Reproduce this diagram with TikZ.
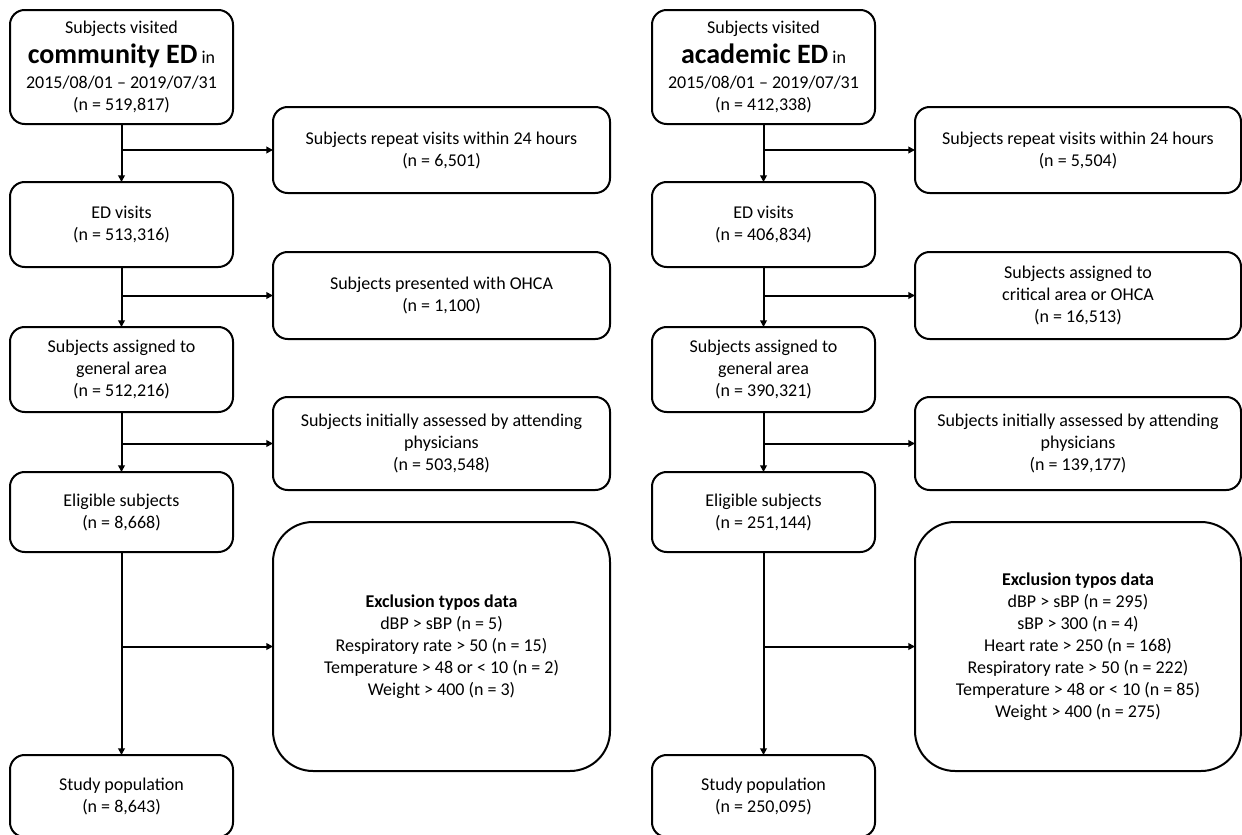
\documentclass[tikz,border=0pt]{standalone}
\usepackage{fontspec}
\setmainfont{Carlito}
\usepackage{tikz}
\usetikzlibrary{arrows.meta, positioning, calc}
\definecolor{mydark}{RGB}{0,0,0}
\newcommand{\bigfont}{\fontsize{21}{26}\selectfont\bfseries}
\tikzset{
  stepbox/.style={rectangle, draw=mydark, fill=white, align=center,
    minimum width=167.25pt, font=\fontsize{13.5}{16.5}\selectfont,
    rounded corners=11pt, line width=1.5pt, inner sep=0pt, outer sep=0pt},
  exclbox/.style={rectangle, draw=mydark, fill=white, align=center,
    minimum width=252.75pt, font=\fontsize{13.5}{16.5}\selectfont,
    rounded corners=11pt, line width=1.5pt, inner sep=0pt, outer sep=0pt},
  arrow/.style={-{Triangle[length=5pt, width=5pt]}, line width=1.5pt, color=mydark}
}

\begin{document}
\begin{tikzpicture}[x=0.75pt, y=-0.75pt]
  \fill[white] (0,0) rectangle (1242,835);
  \useasboundingbox (0,0) rectangle (1242,835);
  \clip (0,0) rectangle (1242,835);

  % Community ED
  \node[stepbox, minimum height=85.5pt] (c1) at (121.5,67)
    {Subjects visited\\[4.5pt] {\bigfont community ED} in\\[2.25pt] 2015/08/01 – 2019/07/31\\ (n = 519,817)};
  \node[stepbox, minimum height=63.75pt] (c2) at (121.5,224.5) {ED visits\\ (n = 513,316)};
  \node[stepbox, minimum height=63.75pt] (c3) at (121.5,369.5)
    {Subjects assigned to\\ general area\\ (n = 512,216)};
  \node[stepbox, minimum height=60pt] (c4) at (121.5,512) {Eligible subjects\\ (n = 8,668)};
  \node[stepbox, minimum height=61.5pt] (c5) at (121.5,796) {Study population\\ (n = 8,643)};

  \node[exclbox, minimum height=64.5pt] (cx1) at (441.5,150)
    {Subjects repeat visits within 24 hours\\ (n = 6,501)};
  \node[exclbox, minimum height=65.25pt] (cx2) at (441.5,295.5)
    {Subjects presented with OHCA\\ (n = 1,100)};
  \node[exclbox, minimum height=69.75pt] (cx3) at (441.5,443.5)
    {Subjects initially assessed by attending\\ physicians\\ (n = 503,548)};
  \node[exclbox, minimum height=186.75pt, rounded corners=30pt] (cx4) at (441.5,646.5)
    {\textbf{Exclusion typos data}\\ dBP > sBP (n = 5)\\ Respiratory rate > 50 (n = 15)\\
     Temperature > 48 or < 10 (n = 2)\\ Weight > 400 (n = 3)};

  % Academic ED
  \node[stepbox, minimum height=85.5pt] (a1) at (763.5,67)
    {Subjects visited\\[4.5pt] {\bigfont academic ED} in\\[2.25pt] 2015/08/01 – 2019/07/31\\ (n = 412,338)};
  \node[stepbox, minimum height=63.75pt] (a2) at (763.5,224.5) {ED visits\\ (n = 406,834)};
  \node[stepbox, minimum height=63.75pt] (a3) at (763.5,369.5)
    {Subjects assigned to\\ general area\\ (n = 390,321)};
  \node[stepbox, minimum height=60pt] (a4) at (763.5,512) {Eligible subjects\\ (n = 251,144)};
  \node[stepbox, minimum height=61.5pt] (a5) at (763.5,796) {Study population\\ (n = 250,095)};

  \node[exclbox, minimum width=244.5pt, minimum height=64.5pt] (ax1) at (1078,150)
    {Subjects repeat visits within 24 hours\\ (n = 5,504)};
  \node[exclbox, minimum width=244.5pt, minimum height=65.25pt] (ax2) at (1078,295.5)
    {Subjects assigned to\\ critical area or OHCA\\ (n = 16,513)};
  \node[exclbox, minimum width=244.5pt, minimum height=69.75pt] (ax3) at (1078,443.5)
    {Subjects initially assessed by attending\\ physicians\\ (n = 139,177)};
  \node[exclbox, minimum width=244.5pt, minimum height=186.75pt, rounded corners=30pt] (ax4) at (1078,646.5)
    {\textbf{Exclusion typos data}\\ dBP > sBP (n = 295)\\ sBP > 300 (n = 4)\\
     Heart rate > 250 (n = 168)\\ Respiratory rate > 50 (n = 222)\\
     Temperature > 48 or < 10 (n = 85)\\ Weight > 400 (n = 275)};

  % Flow
  \foreach \col in {c,a} {
    \foreach \i/\j in {1/2,2/3,3/4,4/5} {
      \draw[arrow] (\col\i) -- (\col\j);
      \draw[arrow] (\col\i.south |- \col x\i.west) -- (\col x\i.west);
    }
  }
\end{tikzpicture}
\end{document}
